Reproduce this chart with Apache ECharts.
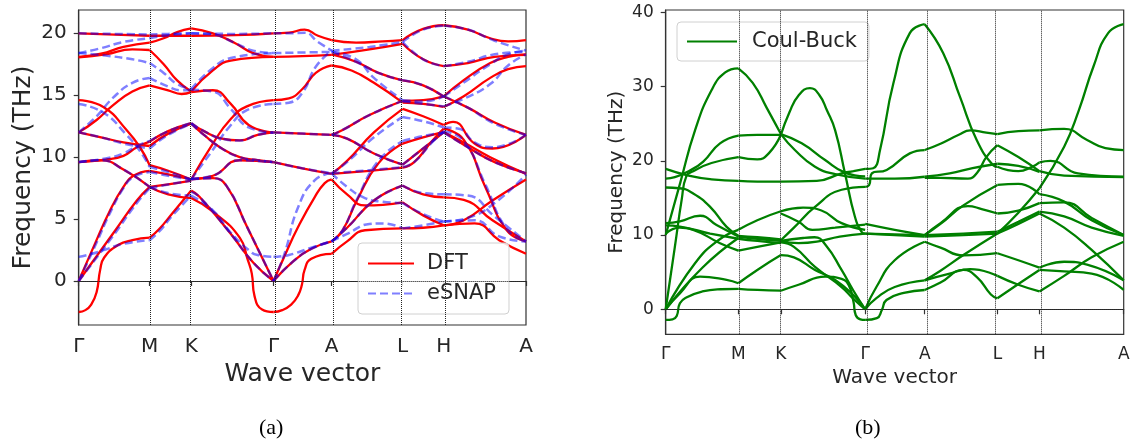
<!DOCTYPE html>
<html><head><meta charset="utf-8">
<script src="https://cdn.jsdelivr.net/npm/echarts@6/dist/echarts.min.js"></script>
<style>html,body{margin:0;padding:0;background:#fff}#c{width:1133px;height:440px}</style>
</head><body><div id="c"></div>
<script>
// high-symmetry points along the path (normalized path length)
const KP = [0, 0.1586, 0.2515, 0.4355, 0.5655, 0.7243, 0.816, 1];
const KLABELS = ['Γ', 'M', 'K', 'Γ', 'A', 'L', 'H', 'A'];
const yTicksA = [0, 5, 10, 15, 20];
const yTicksB = [0, 10, 20, 30, 40];

// DFT phonon branches: [k, THz]
const dftCurves = [
 [[0,20.0],[0.08,19.9],[0.1586,19.8]],
 [[0,18.1],[0.05,18.35],[0.1,18.9],[0.1586,19.25]],
 [[0,18.05],[0.06,18.3],[0.12,18.7],[0.1586,18.65]],
 [[0,14.6],[0.055,14.05],[0.107,12.2],[0.137,10.8],[0.1586,9.35]],
 [[0,12.0],[0.04,13.0],[0.077,14.2],[0.12,15.3],[0.1586,15.8]],
 [[0,12.0],[0.05,11.6],[0.1,11.2],[0.1586,10.9]],
 [[0,9.6],[0.06,9.8],[0.1,10.1],[0.13,10.8],[0.1586,11.25]],
 [[0,9.6],[0.05,9.75],[0.1,9.0],[0.1586,7.6]],
 [[0,0],[0.035,2.9],[0.07,5.7],[0.1,7.6],[0.122,8.5],[0.1586,8.9]],
 [[0,0],[0.08,4.0],[0.13,6.5],[0.1586,7.6]],
 [[0,-2.5],[0.015,-2.35],[0.028,-1.9],[0.04,-0.9],[0.048,0.9],[0.057,1.9],[0.088,2.9],[0.12,3.3],[0.1586,3.5]],
 [[0.1586,19.8],[0.2,19.8],[0.2515,19.8]],
 [[0.1586,19.25],[0.19,19.6],[0.22,20.1],[0.2515,20.4]],
 [[0.1586,18.65],[0.19,17.5],[0.22,16.2],[0.2515,15.3]],
 [[0.1586,15.8],[0.2,15.4],[0.23,15.1],[0.2515,15.25]],
 [[0.1586,11.25],[0.2,12.1],[0.2515,12.75]],
 [[0.1586,10.9],[0.2,11.9],[0.2515,12.7]],
 [[0.1586,9.35],[0.2,8.9],[0.2515,8.2]],
 [[0.1586,8.9],[0.2,8.6],[0.2515,8.2]],
 [[0.1586,7.6],[0.2,7.8],[0.2515,8.1]],
 [[0.1586,7.6],[0.2,7.0],[0.2515,6.7]],
 [[0.1586,3.5],[0.18,4.2],[0.21,5.5],[0.2515,7.3]],
 [[0.2515,19.8],[0.35,19.85],[0.4355,20.0]],
 [[0.2515,20.4],[0.3,20.0],[0.35,19.2],[0.39,18.4],[0.4355,18.1]],
 [[0.2515,15.3],[0.3,17.0],[0.34,17.8],[0.4355,18.1]],
 [[0.2515,15.25],[0.3,15.4],[0.34,14.3],[0.38,12.6],[0.4355,12.0]],
 [[0.2515,12.75],[0.28,12.1],[0.32,11.5],[0.36,11.35],[0.4,11.8],[0.4355,12.0]],
 [[0.2515,12.7],[0.28,11.8],[0.32,10.7],[0.36,10.0],[0.4,9.75],[0.4355,9.6]],
 [[0.2515,8.2],[0.3,11.1],[0.338,13.0],[0.376,14.1],[0.4355,14.6]],
 [[0.2515,8.25],[0.3,8.5],[0.36,9.75],[0.4355,9.6]],
 [[0.2515,8.2],[0.3,8.3],[0.33,7.7],[0.376,4.4],[0.4355,0]],
 [[0.2515,7.3],[0.27,6.8],[0.338,3.9],[0.39,1.5],[0.4355,0]],
 [[0.2515,6.7],[0.3,5.6],[0.36,3.5],[0.378,1.7],[0.387,0.6],[0.393,-1.2],[0.41,-2.3],[0.4355,-2.5]],
 [[0.4355,20.0],[0.47,20.05],[0.505,20.3],[0.535,19.8],[0.5655,19.45]],
 [[0.4355,18.1],[0.5,18.15],[0.5655,18.25]],
 [[0.4355,14.6],[0.47,14.75],[0.5,15.5],[0.53,16.8],[0.5655,17.4]],
 [[0.4355,12.0],[0.5,11.9],[0.5655,11.8]],
 [[0.4355,9.6],[0.5,9.1],[0.5655,8.65]],
 [[0.4355,0],[0.46,2.0],[0.491,4.4],[0.528,6.8],[0.55,7.9],[0.5655,8.2]],
 [[0.4355,0],[0.48,1.6],[0.52,2.6],[0.5655,3.2]],
 [[0.4355,-2.5],[0.455,-2.35],[0.475,-1.9],[0.49,-1.2],[0.499,-0.3],[0.505,0.9],[0.52,1.8],[0.5655,2.2]],
 [[0.5655,19.45],[0.62,19.25],[0.68,19.35],[0.7243,19.45]],
 [[0.5655,18.25],[0.65,18.7],[0.7243,19.15]],
 [[0.5655,18.3],[0.62,17.7],[0.67,16.8],[0.7243,16.2]],
 [[0.5655,17.4],[0.61,17.0],[0.66,16.0],[0.7243,14.4]],
 [[0.5655,11.8],[0.59,12.2],[0.65,13.4],[0.7243,14.55]],
 [[0.5655,11.8],[0.6,11.5],[0.66,10.3],[0.7243,9.4]],
 [[0.5655,8.65],[0.65,8.9],[0.7243,9.15]],
 [[0.5655,8.65],[0.6,9.7],[0.66,12.0],[0.7243,13.9]],
 [[0.5655,8.2],[0.6,7.0],[0.64,6.1],[0.68,6.15],[0.7243,6.35]],
 [[0.5655,3.2],[0.59,4.1],[0.622,6.5],[0.67,9.5],[0.7243,11.1]],
 [[0.5655,3.2],[0.6,4.3],[0.66,6.5],[0.7243,7.7]],
 [[0.5655,2.2],[0.6,3.2],[0.64,4.1],[0.7243,4.25]],
 [[0.7243,19.45],[0.77,20.35],[0.816,20.65]],
 [[0.7243,19.15],[0.77,17.9],[0.816,17.35]],
 [[0.7243,16.2],[0.77,15.8],[0.816,14.9]],
 [[0.7243,14.55],[0.77,14.6],[0.816,14.9]],
 [[0.7243,14.4],[0.77,14.3],[0.816,14.05]],
 [[0.7243,13.9],[0.77,13.3],[0.816,12.6]],
 [[0.7243,11.1],[0.77,11.6],[0.816,12.05]],
 [[0.7243,9.4],[0.77,10.7],[0.816,12.0]],
 [[0.7243,9.15],[0.75,9.6],[0.79,11.3],[0.816,12.3]],
 [[0.7243,7.7],[0.77,7.0],[0.816,6.75]],
 [[0.7243,6.35],[0.77,5.3],[0.816,4.5]],
 [[0.7243,4.25],[0.77,4.3],[0.816,4.5]],
 [[0.816,20.65],[0.87,20.3],[0.92,19.6],[0.96,19.35],[1,19.45]],
 [[0.816,17.35],[0.87,17.6],[0.93,18.1],[1,18.25]],
 [[0.816,14.9],[0.86,16.2],[0.92,17.6],[0.96,18.1],[1,18.3]],
 [[0.816,14.05],[0.86,14.9],[0.92,16.4],[0.96,17.1],[1,17.35]],
 [[0.816,14.9],[0.87,14.0],[0.93,12.8],[1,11.8]],
 [[0.816,12.6],[0.837,12.85],[0.885,11.1],[0.925,10.7],[1,11.8]],
 [[0.816,12.05],[0.87,10.8],[0.93,9.6],[1,8.7]],
 [[0.816,12.0],[0.86,11.2],[0.92,10.0],[1,8.65]],
 [[0.816,12.3],[0.861,11.4],[0.909,7.6],[0.957,4.1],[1,3.2]],
 [[0.816,6.75],[0.861,6.55],[0.925,4.9],[1,3.2]],
 [[0.816,4.5],[0.861,4.9],[0.925,6.5],[1,8.2]],
 [[0.816,4.5],[0.885,4.65],[0.94,3.3],[1,2.2]]
];

// eSNAP branches
const esnapCurves = [
 [[0,20.0],[0.08,19.95],[0.1586,19.9]],
 [[0,18.4],[0.05,18.8],[0.1,19.3],[0.1586,19.6]],
 [[0,18.4],[0.06,18.2],[0.12,17.9],[0.1586,17.6]],
 [[0,14.3],[0.055,13.6],[0.107,11.8],[0.137,10.5],[0.1586,9.2]],
 [[0,12.0],[0.04,13.3],[0.077,14.8],[0.12,16.0],[0.1586,16.4]],
 [[0,12.0],[0.05,11.6],[0.1,11.1],[0.1586,10.7]],
 [[0,9.6],[0.06,9.9],[0.1,10.3],[0.13,10.9],[0.1586,11.3]],
 [[0,9.6],[0.05,9.75],[0.1,9.0],[0.1586,7.6]],
 [[0,0],[0.035,2.7],[0.07,5.5],[0.1,7.5],[0.122,8.4],[0.1586,8.8]],
 [[0,0],[0.08,3.8],[0.13,6.3],[0.1586,7.5]],
 [[0,1.95],[0.03,2.2],[0.06,2.55],[0.1,3.0],[0.1586,3.3]],
 [[0.1586,19.9],[0.2,19.95],[0.2515,20.0]],
 [[0.1586,19.6],[0.2,19.85],[0.2515,20.0]],
 [[0.1586,17.6],[0.19,16.8],[0.22,15.9],[0.2515,15.5]],
 [[0.1586,16.4],[0.2,15.7],[0.23,15.4],[0.2515,15.45]],
 [[0.1586,11.3],[0.2,12.1],[0.2515,12.75]],
 [[0.1586,10.7],[0.2,11.8],[0.2515,12.7]],
 [[0.1586,9.2],[0.2,8.8],[0.2515,8.2]],
 [[0.1586,8.8],[0.2,8.5],[0.2515,8.2]],
 [[0.1586,7.5],[0.2,7.8],[0.2515,8.1]],
 [[0.1586,7.6],[0.2,7.1],[0.2515,6.9]],
 [[0.1586,3.3],[0.18,4.0],[0.21,5.3],[0.2515,6.9]],
 [[0.2515,20.0],[0.35,19.95],[0.4355,20.0]],
 [[0.2515,20.0],[0.3,19.9],[0.35,19.2],[0.39,18.6],[0.4355,18.4]],
 [[0.2515,15.5],[0.3,17.2],[0.34,18.0],[0.4355,18.4]],
 [[0.2515,15.45],[0.3,15.3],[0.34,13.9],[0.38,12.4],[0.4355,12.0]],
 [[0.2515,12.75],[0.28,12.1],[0.32,11.5],[0.36,11.35],[0.4,11.8],[0.4355,12.0]],
 [[0.2515,12.7],[0.28,11.8],[0.32,10.7],[0.36,10.0],[0.4,9.75],[0.4355,9.6]],
 [[0.2515,8.2],[0.3,10.6],[0.338,12.5],[0.376,13.8],[0.4355,14.3]],
 [[0.2515,8.25],[0.3,8.5],[0.36,9.75],[0.4355,9.6]],
 [[0.2515,8.2],[0.3,8.3],[0.33,7.7],[0.376,4.4],[0.4355,0]],
 [[0.2515,7.2],[0.27,6.8],[0.338,3.9],[0.39,1.5],[0.4355,0]],
 [[0.2515,6.9],[0.3,5.7],[0.34,3.9],[0.38,2.5],[0.4,2.1],[0.4355,1.95]],
 [[0.4355,20.0],[0.47,20.0],[0.505,20.05],[0.535,19.3],[0.5655,18.6]],
 [[0.4355,18.4],[0.5,18.45],[0.5655,18.5]],
 [[0.4355,14.3],[0.47,14.4],[0.5,15.2],[0.53,17.3],[0.5655,18.6]],
 [[0.4355,12.0],[0.5,11.9],[0.5655,11.8]],
 [[0.4355,9.6],[0.5,9.1],[0.5655,8.7]],
 [[0.4355,0],[0.46,2.2],[0.491,6.0],[0.528,8.15],[0.5655,8.7]],
 [[0.4355,0],[0.48,1.6],[0.52,2.6],[0.5655,3.2]],
 [[0.4355,1.95],[0.47,2.1],[0.52,2.7],[0.5655,3.2]],
 [[0.5655,18.6],[0.65,18.9],[0.7243,19.3]],
 [[0.5655,18.5],[0.62,17.9],[0.66,16.4],[0.7243,14.6]],
 [[0.5655,18.5],[0.62,17.7],[0.67,16.8],[0.7243,16.2]],
 [[0.5655,11.8],[0.59,12.2],[0.65,13.4],[0.7243,14.55]],
 [[0.5655,11.8],[0.6,11.5],[0.66,10.3],[0.7243,9.4]],
 [[0.5655,8.7],[0.65,8.95],[0.7243,9.2]],
 [[0.5655,8.7],[0.6,9.6],[0.66,11.6],[0.7243,13.25]],
 [[0.5655,8.7],[0.6,7.6],[0.64,6.7],[0.68,6.4],[0.7243,6.3]],
 [[0.5655,3.2],[0.59,4.1],[0.622,6.6],[0.67,9.7],[0.7243,11.3]],
 [[0.5655,3.2],[0.6,4.3],[0.66,6.5],[0.7243,7.7]],
 [[0.5655,3.2],[0.6,3.8],[0.65,4.6],[0.68,4.65],[0.7243,4.25]],
 [[0.7243,19.3],[0.77,20.3],[0.816,20.6]],
 [[0.7243,19.3],[0.77,17.9],[0.816,17.35]],
 [[0.7243,16.2],[0.77,15.8],[0.816,14.9]],
 [[0.7243,14.6],[0.77,14.5],[0.816,14.9]],
 [[0.7243,14.5],[0.77,14.3],[0.816,14.1]],
 [[0.7243,13.25],[0.77,12.9],[0.816,12.4]],
 [[0.7243,11.3],[0.77,11.7],[0.816,12.0]],
 [[0.7243,9.4],[0.77,10.7],[0.816,12.0]],
 [[0.7243,9.2],[0.75,9.6],[0.79,11.2],[0.816,12.1]],
 [[0.7243,7.7],[0.77,7.1],[0.816,7.0]],
 [[0.7243,6.3],[0.77,5.4],[0.816,4.8]],
 [[0.7243,4.25],[0.77,4.5],[0.816,4.8]],
 [[0.816,20.6],[0.87,20.3],[0.93,19.4],[1,18.6]],
 [[0.816,17.35],[0.87,17.7],[0.93,18.3],[1,18.5]],
 [[0.816,14.9],[0.86,16.0],[0.92,17.5],[0.96,18.3],[1,18.6]],
 [[0.816,14.1],[0.86,14.7],[0.92,15.9],[0.96,17.4],[1,18.3]],
 [[0.816,14.9],[0.87,14.0],[0.93,12.7],[1,11.8]],
 [[0.816,12.4],[0.85,12.3],[0.885,11.2],[0.925,10.8],[1,11.8]],
 [[0.816,12.0],[0.87,10.8],[0.93,9.6],[1,8.7]],
 [[0.816,12.1],[0.861,11.3],[0.909,7.8],[0.957,4.2],[1,3.2]],
 [[0.816,7.0],[0.87,6.9],[0.93,5.2],[1,3.2]],
 [[0.816,4.8],[0.87,5.1],[0.93,6.3],[1,8.6]],
 [[0.816,4.8],[0.885,4.9],[0.94,3.6],[1,3.2]]
];

// Coulomb-Buckingham branches
const coulBuckCurves = [
 [[0,18.9],[0.05,18.0],[0.1,17.5],[0.1586,17.3]],
 [[0,0],[0.02,8.4],[0.035,14.8],[0.045,17.9],[0.06,18.6],[0.1,19.7],[0.1586,20.5]],
 [[0,17.6],[0.02,17.8],[0.05,18.6],[0.082,19.9],[0.1186,22.35],[0.1586,23.4]],
 [[0,10.0],[0.032,17.1],[0.064,24.1],[0.1,29.5],[0.13,31.9],[0.1586,32.45]],
 [[0,16.4],[0.03,16.3],[0.06,15.6],[0.097,13.8],[0.133,11.1],[0.1586,9.9]],
 [[0,11.6],[0.031,11.85],[0.075,12.6],[0.111,11.35],[0.1586,9.8]],
 [[0,11.3],[0.06,10.7],[0.1186,8.9],[0.1586,7.9]],
 [[0,10.2],[0.031,11.0],[0.097,10.2],[0.1586,9.5]],
 [[0,0],[0.064,6.2],[0.115,9.3],[0.1586,10.7]],
 [[0,0],[0.08,5.6],[0.1586,9.6]],
 [[0,0],[0.031,2.15],[0.075,4.4],[0.133,3.95],[0.1586,3.5]],
 [[0,-1.44],[0.015,-1.35],[0.024,-0.9],[0.031,0.8],[0.045,1.6],[0.08,2.4],[0.12,2.7],[0.1586,2.75]],
 [[0.1586,32.45],[0.19,30.5],[0.22,27.2],[0.2515,23.6]],
 [[0.1586,23.4],[0.2,23.5],[0.2515,23.5]],
 [[0.1586,20.5],[0.2,20.2],[0.225,21.0],[0.2515,23.5]],
 [[0.1586,17.3],[0.2,17.2],[0.2515,17.2]],
 [[0.1586,10.7],[0.2,12.0],[0.2515,13.2]],
 [[0.1586,9.9],[0.2,9.7],[0.2515,9.4]],
 [[0.1586,9.8],[0.2,9.5],[0.2515,9.2]],
 [[0.1586,9.5],[0.2,9.2],[0.2515,8.9]],
 [[0.1586,7.9],[0.2,8.4],[0.2515,9.0]],
 [[0.1586,3.5],[0.2,5.3],[0.2515,7.3]],
 [[0.1586,2.75],[0.2,2.6],[0.2515,2.5]],
 [[0.2515,23.6],[0.282,21.45],[0.326,19.2],[0.37,18.2],[0.4355,17.6]],
 [[0.2515,23.6],[0.297,22.35],[0.348,20.1],[0.3915,18.4],[0.4355,17.9]],
 [[0.2515,23.5],[0.27,26.5],[0.29,28.8],[0.315,29.8],[0.335,28.9],[0.352,26.8],[0.37,24.1],[0.3915,18.3],[0.413,12.5],[0.428,10.4],[0.4355,10.2]],
 [[0.2515,17.2],[0.33,17.3],[0.384,18.3],[0.41,18.6],[0.4355,18.9]],
 [[0.2515,13.2],[0.3,13.7],[0.34,13.3],[0.384,11.6],[0.4355,10.7]],
 [[0.2515,12.9],[0.29,11.8],[0.32,10.7],[0.37,11.0],[0.4355,11.4]],
 [[0.2515,9.3],[0.28,11.0],[0.326,13.8],[0.384,16.1],[0.4355,16.5]],
 [[0.2515,9.2],[0.29,8.9],[0.33,9.1],[0.38,9.8],[0.4355,10.2]],
 [[0.2515,9.2],[0.3,9.6],[0.325,9.7],[0.35,8.6],[0.384,5.3],[0.41,2.5],[0.4355,0]],
 [[0.2515,9.0],[0.28,8.4],[0.326,5.7],[0.384,3.0],[0.41,1.4],[0.4355,0]],
 [[0.2515,7.3],[0.28,7.0],[0.326,5.3],[0.37,3.95],[0.413,1.7],[0.4355,0]],
 [[0.2515,2.5],[0.29,3.3],[0.348,4.4],[0.384,4.1],[0.4,3.2],[0.41,1.0],[0.415,-0.8],[0.425,-1.35],[0.4355,-1.44]],
 [[0.4355,18.9],[0.453,19.0],[0.468,21.45],[0.497,30.4],[0.533,37.2],[0.5655,38.4]],
 [[0.4355,16.5],[0.444,16.7],[0.45,18.3],[0.4825,18.76],[0.533,21.0],[0.5655,21.45]],
 [[0.4355,17.6],[0.5,17.6],[0.5655,17.85]],
 [[0.4355,11.5],[0.5,10.7],[0.5655,10.0]],
 [[0.4355,10.2],[0.5,10.1],[0.5655,10.0]],
 [[0.4355,10.2],[0.5,10.0],[0.5655,9.8]],
 [[0.4355,0],[0.46,3.0],[0.5,6.6],[0.5655,9.1]],
 [[0.4355,0],[0.46,1.5],[0.5,3.0],[0.5655,3.9]],
 [[0.4355,-1.44],[0.461,-1.2],[0.472,-0.1],[0.482,1.25],[0.52,2.2],[0.5655,2.6]],
 [[0.5655,38.4],[0.606,34.5],[0.6426,28.6],[0.679,22.8],[0.715,19.4],[0.7243,19.2]],
 [[0.5655,21.45],[0.6,22.3],[0.64,23.5],[0.665,24.1],[0.7,23.8],[0.7243,23.6]],
 [[0.5655,17.85],[0.62,18.3],[0.67,19.0],[0.7243,19.6]],
 [[0.5655,17.7],[0.6,17.7],[0.66,17.6],[0.68,18.4],[0.7,20.5],[0.7243,22.1]],
 [[0.5655,10.0],[0.6,11.5],[0.65,14.0],[0.7243,16.75]],
 [[0.5655,10.0],[0.6,11.6],[0.66,13.9],[0.69,13.5],[0.7243,12.9]],
 [[0.5655,10.0],[0.65,10.2],[0.7243,10.45]],
 [[0.5655,9.8],[0.65,10.0],[0.7243,10.2]],
 [[0.5655,9.1],[0.6,8.3],[0.65,7.25],[0.7243,7.55]],
 [[0.5655,3.9],[0.6,5.2],[0.65,7.3],[0.7243,10.2]],
 [[0.5655,3.9],[0.62,4.8],[0.665,5.4],[0.7243,4.5]],
 [[0.5655,2.6],[0.6,3.6],[0.65,5.3],[0.68,4.3],[0.71,2.0],[0.7243,1.48]],
 [[0.7243,23.6],[0.77,24.0],[0.816,24.1]],
 [[0.7243,22.1],[0.77,20.5],[0.816,18.6]],
 [[0.7243,19.6],[0.77,19.3],[0.816,18.5]],
 [[0.7243,19.2],[0.77,18.6],[0.8,19.2],[0.816,19.8]],
 [[0.7243,16.75],[0.77,16.9],[0.816,15.5]],
 [[0.7243,10.2],[0.77,13.0],[0.816,16.3]],
 [[0.7243,12.9],[0.77,13.3],[0.816,14.3]],
 [[0.7243,10.45],[0.77,11.8],[0.816,13.15]],
 [[0.7243,10.2],[0.77,11.5],[0.816,12.9]],
 [[0.7243,7.55],[0.77,6.6],[0.816,5.6]],
 [[0.7243,4.5],[0.77,3.3],[0.816,2.4]],
 [[0.7243,1.48],[0.77,3.4],[0.816,5.3]],
 [[0.816,24.1],[0.87,24.3],[0.92,22.8],[0.96,21.7],[1,21.45]],
 [[0.816,16.3],[0.87,21.9],[0.902,26.8],[0.934,32.7],[0.966,37.2],[1,38.4]],
 [[0.816,19.8],[0.84,20.0],[0.9,18.3],[1,17.85]],
 [[0.816,18.6],[0.87,18.0],[1,17.8]],
 [[0.816,15.5],[0.87,14.5],[0.93,12.0],[1,10.0]],
 [[0.816,14.3],[0.87,14.4],[0.93,12.3],[1,10.0]],
 [[0.816,13.15],[0.87,12.5],[0.93,11.0],[1,9.9]],
 [[0.816,12.9],[0.87,11.0],[0.93,8.0],[1,3.9]],
 [[0.816,2.4],[0.87,4.5],[0.93,7.0],[1,9.1]],
 [[0.816,5.6],[0.87,6.4],[0.92,6.0],[1,3.9]],
 [[0.816,5.3],[0.87,5.1],[0.93,4.8],[1,2.6]]
];

const FONT = 'DejaVu Sans';
const TXT = '#262626';
const chart = echarts.init(document.getElementById('c'), null, {renderer: 'canvas'});

function xAxisDef(gi, fs, margin, nameFs, nameGap) {
  return {
    type: 'value', gridIndex: gi, min: 0, max: 1,
    name: 'Wave vector', nameLocation: 'middle', nameGap: nameGap,
    nameTextStyle: {fontFamily: FONT, fontSize: nameFs, color: TXT},
    axisLine: {show: true, lineStyle: {color: '#333', width: 1.2}},
    axisTick: {show: true, customValues: KP, length: 5, lineStyle: {color: '#333', width: 1.2}},
    axisLabel: {customValues: KP, margin: margin, fontFamily: FONT, fontSize: fs, color: TXT,
      formatter: v => { const i = KP.indexOf(v); return i >= 0 ? KLABELS[i] : ''; }},
    splitLine: {show: false}
  };
}
function yAxisDef(gi, mn, mx, ticks, fs, nameFs, nameGap) {
  return {
    type: 'value', gridIndex: gi, min: mn, max: mx,
    name: 'Frequency (THz)', nameLocation: 'middle', nameGap: nameGap, nameRotate: 90,
    nameTextStyle: {fontFamily: FONT, fontSize: nameFs, color: TXT},
    axisLine: {show: true, lineStyle: {color: '#333', width: 1.2}},
    axisTick: {show: true, customValues: ticks, length: 5, lineStyle: {color: '#333', width: 1.2}},
    axisLabel: {customValues: ticks, margin: 12, fontFamily: FONT, fontSize: fs, color: TXT},
    splitLine: {show: false}
  };
}
function guideSeries(xi) {
  return {
    type: 'line', xAxisIndex: xi, yAxisIndex: xi, data: [], z: 1, silent: true,
    markLine: {
      silent: true, symbol: ['none', 'none'], label: {show: false}, animation: false,
      lineStyle: {type: 'dotted', color: '#222', width: 1},
      data: KP.slice(1, -1).map(v => ({xAxis: v})).concat([{yAxis: 0}])
    }
  };
}
const lineBase = {type: 'line', symbol: 'none', showSymbol: false, smooth: 0.5, silent: true, z: 3};
const series = [guideSeries(0), guideSeries(1)];
dftCurves.forEach(c => series.push(Object.assign({}, lineBase, {
  name: 'DFT', xAxisIndex: 0, yAxisIndex: 0, data: c,
  lineStyle: {color: '#ff0000', width: 2.3}, itemStyle: {color: '#ff0000'}})));
esnapCurves.forEach(c => series.push(Object.assign({}, lineBase, {
  name: 'eSNAP', xAxisIndex: 0, yAxisIndex: 0, data: c, z: 4,
  lineStyle: {color: 'rgba(0,0,255,0.5)', width: 2.5, type: [8, 4]}, itemStyle: {color: 'rgba(0,0,255,0.5)'}})));
coulBuckCurves.forEach(c => series.push(Object.assign({}, lineBase, {
  name: 'Coul-Buck', xAxisIndex: 1, yAxisIndex: 1, data: c,
  lineStyle: {color: '#008000', width: 2.3}, itemStyle: {color: '#008000'}})));

chart.setOption({
  animation: false,
  backgroundColor: '#fff',
  grid: [
    {left: 78.7, top: 10, width: 447.3, height: 315, show: true, borderColor: '#333', borderWidth: 1.2, backgroundColor: 'transparent'},
    {left: 665.7, top: 10, width: 458, height: 324.3, show: true, borderColor: '#333', borderWidth: 1.2, backgroundColor: 'transparent'}
  ],
  xAxis: [xAxisDef(0, 20, 12, 25, 37), xAxisDef(1, 17, 12, 20, 33)],
  yAxis: [yAxisDef(0, -3.55, 21.88, yTicksA, 20, 25, 43), yAxisDef(1, -3.37, 40.31, yTicksB, 17, 20, 39)],
  legend: [
    {data: ['DFT', 'eSNAP'], orient: 'vertical', left: 358, top: 243, padding: [10, 13, 10, 9],
     itemWidth: 46, itemHeight: 14, itemGap: 9, backgroundColor: 'rgba(255,255,255,0.85)',
     borderColor: '#d0d0d0', borderWidth: 1, borderRadius: 4, itemStyle: {opacity: 0},
     textStyle: {fontFamily: FONT, fontSize: 21, color: TXT, padding: [0, 0, 0, 8]}},
    {data: ['Coul-Buck'], orient: 'vertical', left: 677, top: 22, padding: [9, 12, 9, 9],
     itemWidth: 50, itemHeight: 14, backgroundColor: 'rgba(255,255,255,0.85)', itemStyle: {opacity: 0},
     borderColor: '#d0d0d0', borderWidth: 1, borderRadius: 4,
     textStyle: {fontFamily: FONT, fontSize: 21, color: TXT, padding: [0, 0, 0, 10]}}
  ],
  graphic: [
    {type: 'text', left: 259, top: 417, style: {text: '(a)', font: '22px "Liberation Serif"', fill: '#000'}},
    {type: 'text', left: 855, top: 417, style: {text: '(b)', font: '22px "Liberation Serif"', fill: '#000'}}
  ],
  series: series
});
</script></body></html>
